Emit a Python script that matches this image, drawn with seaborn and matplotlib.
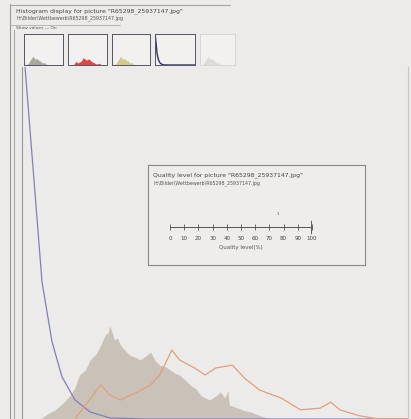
import numpy as np
import pandas as pd
import matplotlib
matplotlib.use("Agg")
import matplotlib.pyplot as plt
import seaborn as sns

# ---- data ----
title_text = 'Histogram display for picture "R65298_25937147.jpg"'
path_text = 'H:\\Bilder\\Wettbewerb\\R65298_25937147.jpg'
show_text = 'Show values \u2014 On'
quality_title = 'Quality level for picture "R65298_25937147.jpg"'
quality_path = 'H:\\Bilder\\Wettbewerb\\R65298_25937147.jpg'
quality_ticks = [0, 10, 20, 30, 40, 50, 60, 70, 80, 90, 100]
quality_label = 'Quality level(%)'
quality_value = 100

lum_x = [0, 12, 17, 22, 27, 32, 35, 38, 42, 45, 49, 52, 55, 57, 58, 60, 61, 63, 65, 68, 71,
         75, 78, 82, 85, 88, 91, 95, 98, 101, 104, 108, 111, 115, 118, 121, 124, 128, 131,
         134, 136, 137, 142, 146, 151, 157, 164, 255]
lum_y = [0, 0, 1.5, 2.6, 4.5, 6.8, 9.0, 12.5, 14.0, 16.8, 18.5, 21.0, 23.9, 24.5, 26.5, 24.0,
         22.4, 23.0, 21.0, 19.5, 18.2, 17.5, 16.8, 18.0, 19.0, 16.5, 15.3, 14.8, 13.9, 13.0,
         12.5, 11.0, 9.7, 8.5, 6.8, 6.0, 5.4, 6.5, 7.7, 6.0, 8.0, 4.0, 3.2, 2.5, 2.0, 1.0, 0, 0]

blue_x = [0, 2.0, 7.9, 13.2, 19.8, 26.4, 35, 45, 58, 80, 255]
blue_y = [115, 100, 68, 39, 22, 12, 5.4, 2.0, 0.3, 0, 0]

orange_x = [35, 42, 52, 58, 65, 75, 85, 91, 99, 104, 114, 121, 128, 139, 147, 157, 171,
            184, 197, 204, 210, 223, 236, 255]
orange_y = [0, 4.0, 9.7, 6.8, 5.4, 7.4, 9.7, 12.5, 19.6, 16.8, 14.5, 12.5, 14.5, 15.3,
            11.6, 8.2, 6.0, 2.6, 3.1, 4.8, 2.6, 0.9, 0, 0]

thumb_colors = ['#9a948c', '#d84a4a', '#c8c070', '#303070', '#d8d6d2']

# ---- figure ----
W, H = 411, 419
bg = '#ecebe9'
sns.set_style("white")
fig = plt.figure(figsize=(W / 100, H / 100), dpi=100, facecolor=bg)


def fx(px):
    return px / W


def fy(py):
    return 1 - py / H


# outer frame lines
fig.add_artist(plt.Line2D([fx(10), fx(10)], [fy(4), fy(419)], transform=fig.transFigure,
                          color='#9a9896', linewidth=0.8))
fig.add_artist(plt.Line2D([fx(10), fx(230)], [fy(5), fy(5)], transform=fig.transFigure,
                          color='#a8a6a4', linewidth=0.8))
fig.add_artist(plt.Line2D([fx(14), fx(14)], [fy(30), fy(419)], transform=fig.transFigure,
                          color='#a8a6a4', linewidth=0.8))
fig.add_artist(plt.Line2D([fx(10), fx(120)], [fy(25), fy(25)], transform=fig.transFigure,
                          color='#b0aeac', linewidth=0.6))

fig.text(fx(16), fy(11), title_text, fontsize=4.4, color='#444444', va='center')
fig.text(fx(16), fy(18), path_text, fontsize=3.4, color='#555555', va='center')
fig.text(fx(16), fy(28), show_text, fontsize=3.2, color='#555555', va='center')

# main histogram axes
ax = fig.add_axes([fx(22), 0, fx(408) - fx(22), fy(67)])
ax.set_facecolor(bg)
ax.fill_between(lum_x, lum_y, color='#c4bbb0', alpha=0.85, linewidth=0)
sns.lineplot(x=blue_x, y=blue_y, ax=ax, color='#8080b8', linewidth=0.9, estimator=None, sort=False)
sns.lineplot(x=orange_x, y=orange_y, ax=ax, color='#e0a07c', linewidth=0.9, estimator=None, sort=False)
ax.set_xlim(0, 255)
ax.set_ylim(0, 100)
ax.set_xticks([])
ax.set_yticks([])
for s in ['top', 'bottom']:
    ax.spines[s].set_visible(False)
ax.spines['left'].set_color('#9a9896')
ax.spines['right'].set_color('#c8c6c4')
ax.spines['left'].set_linewidth(0.8)

# thumbnails
thumbs = [(24, 63), (68, 107), (112, 150), (155, 195), (200, 235)]
for i, ((x0, x1), c) in enumerate(zip(thumbs, thumb_colors)):
    tax = fig.add_axes([fx(x0), fy(65), fx(x1) - fx(x0), fy(34) - fy(65)])
    tax.set_facecolor('#f2f1ef')
    if i == 3:
        sns.lineplot(x=blue_x, y=blue_y, ax=tax, color=c, linewidth=1.0, estimator=None, sort=False)
        tax.set_ylim(0, 105)
    elif i == 1:
        tax.fill_between(orange_x, orange_y, color=c, linewidth=0)
        tax.set_ylim(0, 80)
    else:
        tax.fill_between(lum_x, lum_y, color=c, linewidth=0, alpha=0.8)
        tax.set_ylim(0, 90)
    tax.set_xlim(0, 255)
    tax.set_xticks([])
    tax.set_yticks([])
    ec = '#555566' if i < 4 else '#d8d6d4'
    for s in tax.spines.values():
        s.set_color(ec)
        s.set_linewidth(0.7)

# quality inset box
qax = fig.add_axes([fx(148), fy(265), fx(365) - fx(148), fy(165) - fy(265)])
qax.set_facecolor('#eeedeb')
qax.set_xticks([])
qax.set_yticks([])
for s in qax.spines.values():
    s.set_color('#8a8886')
    s.set_linewidth(0.8)
fig.text(fx(153), fy(175), quality_title, fontsize=4.4, color='#444444', va='center')
fig.text(fx(153), fy(183), quality_path, fontsize=3.4, color='#555555', va='center')

# scale: axes centred on the scale line (y = 227 px)
sax = fig.add_axes([fx(170), fy(237), fx(312) - fx(170), fy(217) - fy(237)])
sax.set_facecolor('none')
sns.lineplot(x=[quality_value, quality_value], y=[-0.6, 0.6], ax=sax, color='#333333',
             linewidth=1.8, estimator=None, sort=False)
for s in ['top', 'left', 'right']:
    sax.spines[s].set_visible(False)
sax.spines['bottom'].set_position(('axes', 0.5))
sax.spines['bottom'].set_color('#555555')
sax.spines['bottom'].set_linewidth(0.7)
sax.set_xlim(0, 100)
sax.set_ylim(-1, 1)
sax.set_yticks([])
sax.set_ylabel('')
sax.set_xticks(quality_ticks)
sax.set_xticklabels([str(t) for t in quality_ticks], fontsize=4.0, color='#444444')
sax.tick_params(axis='x', bottom=True, direction='inout', length=5, width=0.6, pad=4,
                color='#555555', labelcolor='#444444')
sax.set_xlabel(quality_label, fontsize=4.0, color='#555555', labelpad=3)
fig.text(fx(278), fy(214), '1', fontsize=3.2, color='#666666', ha='center', va='center')

fig.savefig('out.png', dpi=100, facecolor=bg)
